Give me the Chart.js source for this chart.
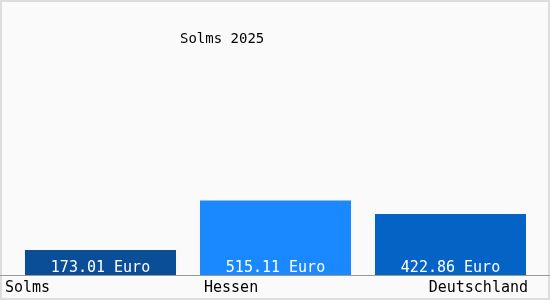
<!DOCTYPE html>
<html lang="de">
<head>
<meta charset="UTF-8">
<title>Solms 2025</title>
<script src="https://cdn.jsdelivr.net/npm/chart.js"></script>
<style>
  body { margin: 0; background: #fff; }
  #wrap { width: 550px; height: 300px; }
</style>
</head>
<body>
<div id="wrap"><canvas id="id_grafico" width="550" height="300"></canvas></div>
<script>
// Daten
const titel = 'Solms 2025';
const orte = ['Solms', 'Hessen', 'Deutschland'];
const werte = [173.01, 515.11, 422.86];
const einheit = 'Euro';
const farben = ['#0a4e98', '#1a88ff', '#0663c6'];

const schrift = '"DejaVu Sans Mono", monospace';

const rahmenPlugin = {
  id: 'rahmen',
  beforeDraw(chart) {
    const c = chart.ctx;
    c.save();
    c.fillStyle = '#fafafa';
    c.fillRect(0, 0, chart.width, chart.height);
    c.strokeStyle = '#dddddd';
    c.lineWidth = 2;
    c.strokeRect(1, 1, chart.width - 2, chart.height - 2);
    c.restore();
  },
  afterDraw(chart) {
    const c = chart.ctx;
    const area = chart.chartArea;
    const bars = chart.getDatasetMeta(0).data;
    c.save();
    // Achsenlinie
    c.strokeStyle = '#999999';
    c.lineWidth = 1;
    c.beginPath();
    c.moveTo(0, area.bottom + 0.5);
    c.lineTo(chart.width, area.bottom + 0.5);
    c.stroke();

    // Titel
    c.font = '14px ' + schrift;
    c.fillStyle = '#000';
    c.textBaseline = 'middle';
    c.textAlign = 'left';
    c.fillText(titel, 180, 39);

    // Werte in den Balken
    c.font = '15px ' + schrift;
    c.fillStyle = '#fff';
    c.textAlign = 'center';
    c.textBaseline = 'alphabetic';
    bars.forEach((b, i) => {
      c.fillText(werte[i].toFixed(2) + ' ' + einheit, b.x, area.bottom - 3);
    });

    // Beschriftung unten
    c.fillStyle = '#000';
    c.textBaseline = 'middle';
    bars.forEach((b, i) => {
      const half = b.width / 2;
      if (i === 0) {
        c.textAlign = 'left';
        c.fillText(orte[i], 5, area.bottom + 13);
      } else if (i === bars.length - 1) {
        c.textAlign = 'right';
        c.fillText(orte[i], b.x + half + 2, area.bottom + 13);
      } else {
        c.textAlign = 'left';
        c.fillText(orte[i], b.x - half + 4, area.bottom + 13);
      }
    });
    c.restore();
  }
};

const ctx = document.getElementById('id_grafico').getContext('2d');
var grafico = new Chart(ctx, {
  type: 'bar',
  data: {
    labels: orte,
    datasets: [{
      data: werte,
      backgroundColor: farben,
      borderWidth: 0,
      categoryPercentage: 1,
      barPercentage: 0.863
    }]
  },
  options: {
    responsive: false,
    animation: false,
    layout: { padding: { left: 13, right: 12, top: 15, bottom: 25 } },
    plugins: {
      legend: { display: false },
      title: { display: false },
      tooltip: { enabled: false }
    },
    scales: {
      x: { display: false },
      y: { display: false, min: 0, max: 1800 }
    }
  },
  plugins: [rahmenPlugin]
});
</script>
</body>
</html>
